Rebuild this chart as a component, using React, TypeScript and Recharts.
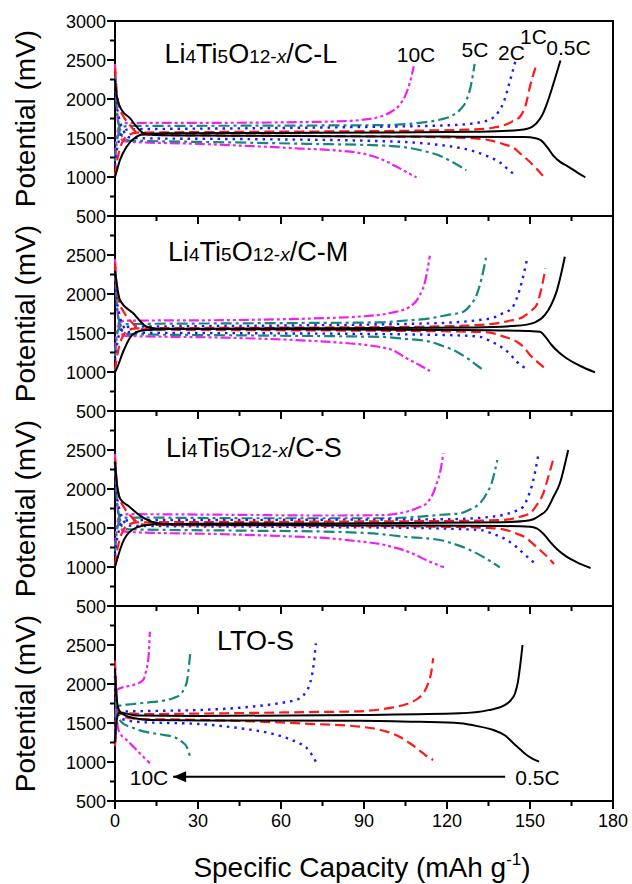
import React from "react";
import { LineChart, Line, XAxis, YAxis, ReferenceArea } from "recharts";

type Pt = [number, number]; // [capacity mAh/g, potential mV]

// ---- Li4Ti5O12-x/C-L ----
const L_05_CHG: Pt[] = [[0,1000],[0.4,1047],[1.8,1218],[4.2,1389],[7.8,1517],[10.8,1551],[20,1560],[60,1565],[100,1570],[130,1580],[142,1592],[149,1619],[151,1650],[152.5,1695],[154.5,1800],[156,1929],[158.5,2200],[161,2494]];
const L_05_DIS: Pt[] = [[0,2250],[0.6,2050],[2.4,1860],[5.4,1755],[7.8,1645],[10.2,1565],[14,1540],[40,1530],[80,1522],[120,1518],[148,1512],[152,1498],[154,1470],[156.5,1370],[158.5,1270],[161,1190],[163.5,1140],[167,1060],[170,995]];
const L_1_CHG: Pt[] = [[0,1020],[0.5,1150],[1.5,1330],[3,1470],[5,1540],[8,1568],[40,1578],[80,1585],[110,1595],[130,1610],[137,1635],[140.4,1661],[143.5,1710],[146.5,1779],[148.5,1930],[150,2160],[152.5,2460]];
const L_1_DIS: Pt[] = [[0,2400],[0.5,2150],[1.5,1900],[3,1780],[5,1680],[8,1570],[11,1540],[60,1528],[110,1515],[130,1495],[136.8,1460],[140.5,1420],[144,1376],[146.5,1300],[148.9,1227],[152,1120],[154.7,1014]];
const L_2_CHG: Pt[] = [[0,1150],[0.5,1300],[1.5,1480],[3,1580],[5,1612],[50,1625],[96,1645],[120,1662],[130,1690],[135.6,1737],[138.5,1830],[140.4,1950],[142.5,2200],[144.7,2480]];
const L_2_DIS: Pt[] = [[0,2350],[0.5,2000],[1.5,1750],[3,1600],[5,1510],[10,1496],[50,1485],[96,1460],[115,1420],[125,1370],[129.5,1333],[135,1260],[139.2,1185],[142,1100],[144.7,1020]];
const L_5_CHG: Pt[] = [[0,1200],[0.5,1400],[1.5,1580],[3,1645],[5,1655],[50,1658],[96,1665],[110,1695],[117.6,1737],[122,1790],[124.8,1865],[127,1980],[128.5,2150],[130,2450]];
const L_5_DIS: Pt[] = [[0,2300],[0.5,1950],[1.5,1650],[3,1500],[5,1468],[10,1463],[40,1445],[70,1425],[96,1405],[105,1380],[112,1330],[117.6,1270],[121,1210],[124,1150],[127,1085]];
const L_10_CHG: Pt[] = [[0,1250],[0.5,1480],[1.5,1640],[3,1688],[5,1692],[40,1695],[70,1705],[85,1720],[92,1745],[96,1775],[100,1840],[103,1930],[105,2050],[106.5,2200],[108,2420]];
const L_10_DIS: Pt[] = [[0,2450],[0.5,2000],[1.5,1600],[3,1460],[5,1452],[30,1425],[50,1395],[67,1365],[80,1340],[88,1310],[93,1270],[98,1200],[103.5,1100],[106,1050],[109,995]];

// ---- Li4Ti5O12-x/C-M ----
const M_05_CHG: Pt[] = [[0,1000],[0.4,1026],[3.2,1282],[6.2,1474],[10.4,1535],[20,1552],[80,1562],[130,1572],[145,1592],[151.8,1637],[155.4,1731],[157.5,1850],[159.6,2030],[161.2,2250],[162.6,2478]];
const M_05_DIS: Pt[] = [[0,2300],[1.8,1923],[6.6,1753],[11.5,1581],[16,1555],[60,1548],[120,1540],[145,1530],[150,1525],[153.6,1515],[155.8,1440],[157.8,1346],[160.5,1250],[163.2,1176],[168,1080],[173.5,996]];
const M_1_CHG: Pt[] = [[0,1020],[0.5,1150],[1.5,1330],[3,1470],[5,1540],[8,1560],[60,1568],[110,1580],[130,1600],[137.9,1624],[143,1660],[147.6,1709],[150.2,1780],[152.4,1859],[154,2050],[155.6,2329]];
const M_1_DIS: Pt[] = [[0,2400],[0.5,2150],[1.5,1900],[3,1780],[5,1680],[8,1575],[11,1545],[60,1535],[110,1525],[130,1515],[135.5,1505],[140,1460],[145.2,1389],[148,1310],[150,1218],[153,1120],[155.4,1047]];
const M_2_CHG: Pt[] = [[0,1150],[0.5,1300],[1.5,1480],[3,1560],[5,1580],[60,1595],[113.8,1624],[130,1660],[136.7,1697],[140,1750],[143.4,1817],[146.4,2073],[149,2457]];
const M_2_DIS: Pt[] = [[0,2350],[0.5,2000],[1.5,1750],[3,1590],[5,1510],[10,1504],[60,1495],[110,1480],[125,1468],[131.9,1450],[136,1390],[140.3,1304],[143,1220],[145.2,1132],[148.8,1039]];
const M_5_CHG: Pt[] = [[0,1200],[0.5,1400],[1.5,1570],[3,1610],[5,1615],[50,1625],[95.8,1637],[105,1660],[113.8,1688],[120,1730],[125.9,1773],[128.5,1860],[130.7,1987],[132.5,2200],[134.1,2465]];
const M_5_DIS: Pt[] = [[0,2300],[0.5,1950],[1.5,1650],[3,1510],[5,1485],[50,1468],[95.8,1450],[105,1425],[113.8,1389],[118,1340],[123.5,1260],[128,1160],[131,1080],[133.7,1013]];
const M_10_CHG: Pt[] = [[0,1250],[0.5,1480],[1.5,1620],[3,1655],[5,1658],[40,1665],[70,1685],[90,1715],[100,1760],[106.6,1837],[110.2,1987],[112,2150],[113.8,2490]];
const M_10_DIS: Pt[] = [[0,2450],[0.5,2000],[1.5,1600],[3,1470],[5,1462],[40,1440],[65,1410],[80,1380],[90,1350],[95.8,1320],[100,1285],[105.4,1176],[110,1090],[113.8,1013]];

// ---- Li4Ti5O12-x/C-S ----
const S_05_CHG: Pt[] = [[0,1000],[0.4,1052],[3.3,1354],[7.7,1504],[13.5,1547],[30,1555],[90,1560],[140,1575],[148,1590],[151.2,1612],[153.5,1660],[156,1731],[158.5,1900],[160.8,2073],[162.5,2300],[163.8,2500]];
const S_05_DIS: Pt[] = [[0,2350],[0.4,2172],[1.9,1871],[4.8,1785],[9.2,1655],[13.5,1578],[20,1545],[80,1535],[140,1525],[150,1517],[152.4,1496],[155,1420],[157.2,1325],[160,1220],[163.2,1133],[167,1060],[171.9,987]];
const S_1_CHG: Pt[] = [[0,1020],[0.5,1150],[1.5,1330],[3,1470],[5,1545],[8,1572],[60,1580],[120,1590],[140.3,1603],[146,1640],[150,1688],[152.5,1800],[154.8,1944],[156.8,2180],[158.7,2414]];
const S_1_DIS: Pt[] = [[0,2400],[0.5,2150],[1.5,1900],[3,1780],[5,1680],[8,1575],[11,1540],[60,1530],[120,1515],[135,1500],[140.3,1483],[145,1430],[148.8,1368],[151,1300],[153.6,1218],[156,1140],[158.7,1039]];
const S_2_CHG: Pt[] = [[0,1150],[0.5,1300],[1.5,1480],[3,1580],[5,1600],[60,1605],[119.9,1612],[135,1640],[141.6,1680],[145,1720],[147.6,1774],[149.3,1900],[150.6,2030],[153,2436]];
const S_2_DIS: Pt[] = [[0,2350],[0.5,2000],[1.5,1750],[3,1600],[5,1530],[10,1526],[60,1515],[110,1500],[125,1485],[131.9,1474],[137,1420],[141.6,1346],[145,1260],[147.6,1176],[150,1100],[152.4,1026]];
const S_5_CHG: Pt[] = [[0,1200],[0.5,1400],[1.5,1580],[3,1628],[5,1634],[50,1625],[95.8,1625],[110,1645],[118,1670],[124.7,1688],[128.5,1740],[131.9,1817],[134.3,1940],[136.1,2073],[138.2,2372]];
const S_5_DIS: Pt[] = [[0,2300],[0.5,1950],[1.5,1650],[3,1500],[5,1483],[50,1465],[74.6,1455],[95.8,1423],[104,1390],[117.5,1346],[123,1290],[128.3,1218],[134,1110],[139.1,996]];
const S_10_CHG: Pt[] = [[0,1250],[0.5,1480],[1.5,1640],[3,1672],[5,1677],[40,1670],[75,1660],[95.8,1665],[105.4,1709],[109.5,1760],[112.6,1817],[114.8,1930],[116.3,2073],[117.7,2250],[118.7,2458]];
const S_10_DIS: Pt[] = [[0,2450],[0.5,2000],[1.5,1600],[3,1460],[5,1448],[40,1420],[60,1397],[80,1360],[89,1325],[95.8,1295],[100,1260],[104,1220],[108,1165],[113,1080],[118.9,996]];

// ---- LTO-S ----
const T_05_CHG: Pt[] = [[0,1250],[0.5,1500],[1.5,1630],[3.3,1624],[8,1595],[30,1590],[88.5,1603],[124.7,1624],[135,1665],[140.3,1718],[143,1790],[144.6,1881],[145.6,2020],[146.4,2223],[147.3,2500]];
const T_05_DIS: Pt[] = [[0,2200],[0.5,1850],[1.5,1660],[3,1610],[6.6,1564],[12,1540],[40,1532],[88.5,1530],[110,1515],[124.7,1496],[131,1460],[136.7,1410],[141,1340],[144,1240],[146.5,1160],[148.8,1090],[151,1040],[153.3,1004]];
const T_1_CHG: Pt[] = [[0,1200],[0.5,1500],[1.5,1640],[3,1630],[10,1615],[40,1625],[70,1640],[88.5,1650],[95,1670],[100.6,1701],[106,1750],[109.6,1817],[111.8,1900],[113.2,2009],[114.3,2150],[115,2330]];
const T_1_DIS: Pt[] = [[0,2300],[0.5,1900],[1.5,1640],[4,1570],[10,1550],[25,1543],[50,1520],[70,1490],[88.5,1453],[98.2,1389],[103,1320],[106.6,1240],[110,1150],[112.5,1080],[115,1026]];
const T_2_CHG: Pt[] = [[0,1250],[0.5,1550],[1.8,1645],[15,1655],[30.7,1667],[45,1695],[54.8,1731],[62,1770],[66.9,1817],[69,1900],[70.5,2009],[71.8,2250],[72.6,2522]];
const T_2_DIS: Pt[] = [[0,2100],[0.5,1750],[1.8,1564],[5,1530],[9,1513],[30.7,1487],[40,1455],[48.8,1415],[56,1370],[62,1308],[66,1250],[69.3,1180],[71,1100],[72.6,1004]];
const T_5_CHG: Pt[] = [[0,1250],[0.4,1600],[1.2,1718],[6.6,1744],[14,1770],[18.7,1795],[21.5,1825],[23.5,1859],[25,1940],[26.1,2051],[26.8,2250],[27.3,2436]];
const T_5_DIS: Pt[] = [[0,2100],[0.5,1700],[1.5,1560],[3,1490],[5.4,1453],[9,1405],[12.6,1376],[18,1345],[22.3,1304],[24.5,1250],[25.9,1197],[26.6,1130],[27.1,1068]];
const T_10_CHG: Pt[] = [[0,1250],[0.3,1700],[0.6,1923],[3,1960],[6.6,1987],[10.2,2051],[11.3,2180],[12,2308],[12.4,2500],[12.6,2671]];
const T_10_DIS: Pt[] = [[0,2150],[0.5,1700],[1,1450],[1.8,1368],[4,1290],[6.6,1197],[8.5,1130],[10.2,1068],[12.6,983]];

// arrow "0.5C -> 10C" in the LTO-S panel
const ARROW_CAP = [21, 141];
const ARROW_MV = 810;

const X_TICKS = [0, 15, 30, 45, 60, 75, 90, 105, 120, 135, 150, 165, 180];
const Y_TICKS = [500, 750, 1000, 1250, 1500, 1750, 2000, 2250, 2500, 2750, 3000];

const RATES = ["10C", "5C", "2C", "1C", "0.5C"]; // draw order, black on top

const STYLE: Record<string, { stroke: string; dash?: string; width: number }> = {
  "0.5C": { stroke: "#000000", width: 2 },
  "1C": { stroke: "#ff1a1a", dash: "10 5", width: 2.2 },
  "2C": { stroke: "#1a1aff", dash: "2.5 5", width: 2.4 },
  "5C": { stroke: "#15887a", dash: "11 4 3 4", width: 2.2 },
  "10C": { stroke: "#ee22ee", dash: "10 3 3 3 3 3", width: 2.2 },
};

const PANELS = [
  { name: "L", curves: { "0.5C": [L_05_CHG, L_05_DIS], "1C": [L_1_CHG, L_1_DIS], "2C": [L_2_CHG, L_2_DIS], "5C": [L_5_CHG, L_5_DIS], "10C": [L_10_CHG, L_10_DIS] } },
  { name: "M", curves: { "0.5C": [M_05_CHG, M_05_DIS], "1C": [M_1_CHG, M_1_DIS], "2C": [M_2_CHG, M_2_DIS], "5C": [M_5_CHG, M_5_DIS], "10C": [M_10_CHG, M_10_DIS] } },
  { name: "S", curves: { "0.5C": [S_05_CHG, S_05_DIS], "1C": [S_1_CHG, S_1_DIS], "2C": [S_2_CHG, S_2_DIS], "5C": [S_5_CHG, S_5_DIS], "10C": [S_10_CHG, S_10_DIS] } },
  { name: "LTO", curves: { "0.5C": [T_05_CHG, T_05_DIS], "1C": [T_1_CHG, T_1_DIS], "2C": [T_2_CHG, T_2_DIS], "5C": [T_5_CHG, T_5_DIS], "10C": [T_10_CHG, T_10_DIS] } },
] as { name: string; curves: Record<string, Pt[][]> }[];

const FONT = '"Liberation Sans", Arial, sans-serif';
const W = 632;
const PLOT_LEFT = 115;
const PLOT_RIGHT = 613;
const FIRST_TOP = 21;
const PANEL_H = 195;
const MT = 10;
const MB = 36;
const XAXIS_H = 1; // an axis of height 0 is not drawn at all

const toRows = (pts: Pt[]) => pts.map(([c, v]) => ({ c, v }));

function XTick(props: any) {
  const { x, y, payload, showLabel } = props;
  const major = payload.value % 30 === 0;
  return (
    <g>
      <line x1={x} x2={x} y1={y} y2={y + (major ? 8 : 5)} stroke="#000" strokeWidth={2} />
      {showLabel && major && (
        <text x={x} y={y + 26} textAnchor="middle" fontSize={18} fontFamily={FONT} fill="#000">
          {payload.value}
        </text>
      )}
    </g>
  );
}

function YTick(props: any) {
  const { x, y, payload, first } = props;
  const major = payload.value % 500 === 0;
  const label = major && (first || payload.value !== 3000);
  return (
    <g>
      <line x1={x} x2={x - (major ? 8 : 5)} y1={y} y2={y} stroke="#000" strokeWidth={2} />
      {label && (
        <text x={x - 9} y={y + 6.5} textAnchor="end" fontSize={18} fontFamily={FONT} fill="#000">
          {payload.value}
        </text>
      )}
    </g>
  );
}

function ArrowHead(props: any) {
  const { cx, cy, index } = props;
  if (index !== 0) return <g key={`ah-${index}`} />;
  return <path key="ah-0" d={`M${cx} ${cy} l13 -5.5 v11 z`} fill="#000" />;
}

function Panel({ idx }: { idx: number }) {
  const p = PANELS[idx];
  const last = idx === PANELS.length - 1;
  return (
    <LineChart
      width={W}
      height={PANEL_H + MT + MB + XAXIS_H}
      margin={{ top: MT, right: W - PLOT_RIGHT, bottom: MB, left: 0 }}
    >
      <XAxis
        dataKey="c"
        type="number"
        domain={[0, 180]}
        ticks={X_TICKS}
        interval={0}
        height={XAXIS_H}
        tickSize={0}
        tickMargin={0}
        axisLine={false}
        tickLine={false}
        tick={(t: any) => <XTick {...t} showLabel={last} />}
      />
      <YAxis
        type="number"
        domain={[500, 3000]}
        ticks={Y_TICKS}
        interval={0}
        width={PLOT_LEFT}
        tickSize={0}
        tickMargin={0}
        axisLine={false}
        tickLine={false}
        tick={(t: any) => <YTick {...t} first={idx === 0} />}
      />
      <ReferenceArea x1={0} x2={180} y1={500} y2={3000} fill="none" stroke="#000" strokeWidth={2} />
      {RATES.flatMap((r) =>
        p.curves[r].map((pts, k) => (
          <Line
            key={`${r}-${k}`}
            data={toRows(pts)}
            dataKey="v"
            type="monotone"
            dot={false}
            stroke={STYLE[r].stroke}
            strokeDasharray={STYLE[r].dash}
            strokeWidth={STYLE[r].width}
            isAnimationActive={false}
          />
        ))
      )}
      {last && (
        <Line
          data={ARROW_CAP.map((c) => ({ c, v: ARROW_MV }))}
          dataKey="v"
          stroke="#000"
          strokeWidth={2}
          dot={ArrowHead}
          isAnimationActive={false}
        />
      )}
    </LineChart>
  );
}

function LiTitle({ x, y, suffix }: { x: number; y: number; suffix: string }) {
  return (
    <text x={x} y={y} fontSize={27} fontFamily={FONT} fill="#000">
      Li<tspan fontSize={19}>4</tspan>Ti<tspan fontSize={19}>5</tspan>O<tspan fontSize={19}>12-</tspan>
      <tspan fontSize={19} fontStyle="italic">x</tspan>/C-{suffix}
    </text>
  );
}

export default function App() {
  return (
    <div
      style={{
        position: "absolute",
        left: 0,
        top: 0,
        width: W,
        height: 884,
        background: "#fff",
        fontFamily: FONT,
        overflow: "hidden",
      }}
    >
      {PANELS.map((p, i) => (
        <div key={p.name} style={{ position: "absolute", left: 0, top: FIRST_TOP + i * PANEL_H - MT }}>
          <Panel idx={i} />
        </div>
      ))}
      <svg
        width={W}
        height={884}
        style={{ position: "absolute", left: 0, top: 0, pointerEvents: "none" }}
      >
        {PANELS.map((p, i) => (
          <text
            key={`yl-${p.name}`}
            transform={`translate(35 ${FIRST_TOP + i * PANEL_H + PANEL_H / 2}) rotate(-90)`}
            textAnchor="middle"
            fontSize={28}
            fontFamily={FONT}
            fill="#000"
          >
            Potential (mV)
          </text>
        ))}
        <LiTitle x={164.5} y={63} suffix="L" />
        <LiTitle x={168} y={260.5} suffix="M" />
        <LiTitle x={166} y={456.5} suffix="S" />
        <text x={217} y={650} fontSize={27} fontFamily={FONT} fill="#000">LTO-S</text>

        <g fontSize={21} fontFamily={FONT} fill="#000" textAnchor="middle">
          <text x={416} y={62}>10C</text>
          <text x={475} y={57}>5C</text>
          <text x={511.5} y={60}>2C</text>
          <text x={533.5} y={43.5}>1C</text>
          <text x={568.5} y={55}>0.5C</text>
          <text x={149} y={785}>10C</text>
          <text x={537.5} y={785}>0.5C</text>
        </g>

        <text x={362} y={877} textAnchor="middle" fontSize={28} fontFamily={FONT} fill="#000">
          Specific Capacity (mAh g<tspan dy={-12} fontSize={17}>-1</tspan><tspan dy={12}>)</tspan>
        </text>
      </svg>
    </div>
  );
}
